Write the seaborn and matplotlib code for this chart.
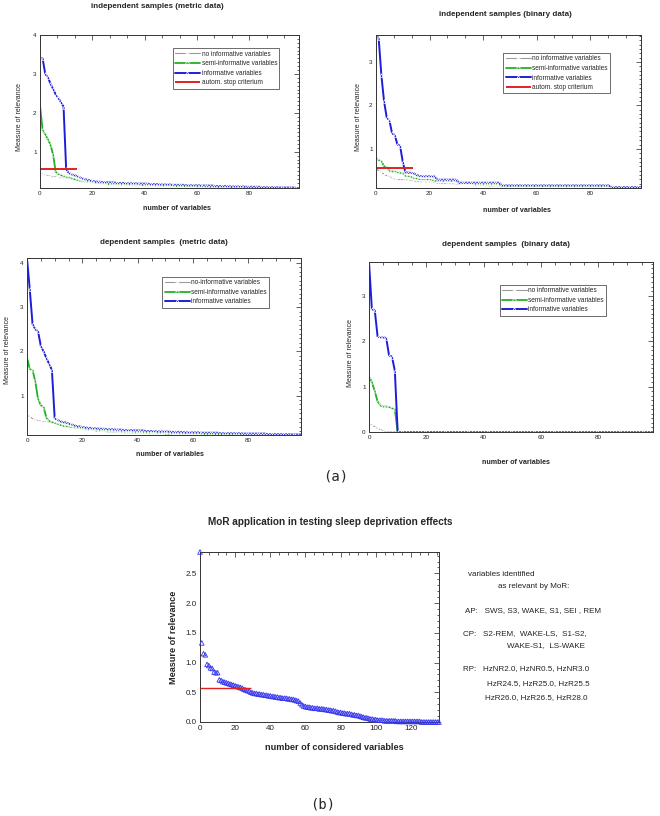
import seaborn as sns
import matplotlib.pyplot as plt
from matplotlib.ticker import MultipleLocator, AutoMinorLocator, FormatStrFormatter

# ---- data ----
# (a) independent samples, metric data
ind_metric_none = [0.42, 0.42, 0.40, 0.39, 0.37, 0.36, 0.35, 0.34, 0.33, 0.32,
                   0.31, 0.30, 0.29, 0.28, 0.27, 0.26, 0.25, 0.24, 0.23, 0.22,
                   0.21, 0.20, 0.19, 0.18, 0.18, 0.17, 0.17, 0.16, 0.16, 0.15,
                   0.15, 0.15, 0.14, 0.14, 0.14, 0.13, 0.13, 0.13, 0.13, 0.12,
                   0.12, 0.12, 0.12, 0.11, 0.11, 0.11, 0.11, 0.11, 0.10, 0.10,
                   0.10, 0.10, 0.10, 0.10, 0.10, 0.09, 0.09, 0.09, 0.09, 0.09,
                   0.09, 0.09, 0.09, 0.08, 0.08, 0.08, 0.08, 0.08, 0.08, 0.08,
                   0.08, 0.08, 0.08, 0.08, 0.08, 0.07, 0.07, 0.07, 0.07, 0.07,
                   0.07, 0.07, 0.07, 0.07, 0.07, 0.07, 0.07, 0.07, 0.07, 0.07,
                   0.07, 0.07, 0.07, 0.07, 0.07, 0.07, 0.07, 0.07, 0.07, 0.07]
ind_metric_semi = [2.20, 1.55, 1.45, 1.32, 1.18, 0.93, 0.48, 0.43, 0.40, 0.37,
                   0.35, 0.34, 0.32, 0.30, 0.28, 0.26, 0.25, 0.24, 0.23, 0.22,
                   0.21, 0.20, 0.19, 0.19, 0.18, 0.18, 0.17, 0.17, 0.16, 0.16,
                   0.16, 0.15, 0.15, 0.15, 0.15, 0.14, 0.14, 0.14, 0.14, 0.14,
                   0.13, 0.13, 0.13, 0.13, 0.13, 0.12, 0.12, 0.12, 0.12, 0.12,
                   0.12, 0.11, 0.11, 0.11, 0.11, 0.11, 0.11, 0.11, 0.10, 0.10,
                   0.10, 0.10, 0.10, 0.10, 0.10, 0.10, 0.09, 0.09, 0.09, 0.09,
                   0.09, 0.09, 0.09, 0.09, 0.09, 0.08, 0.08, 0.08, 0.08, 0.08,
                   0.08, 0.08, 0.08, 0.08, 0.08, 0.08, 0.07, 0.07, 0.07, 0.07,
                   0.07, 0.07, 0.07, 0.07, 0.07, 0.07, 0.07, 0.07, 0.07, 0.07]
ind_metric_info = [3.40, 3.40, 3.00, 2.92, 2.75, 2.62, 2.47, 2.38, 2.28, 2.16,
                   0.55, 0.46, 0.42, 0.40, 0.38, 0.35, 0.32, 0.30, 0.28, 0.27,
                   0.25, 0.24, 0.23, 0.23, 0.22, 0.22, 0.21, 0.21, 0.21, 0.20,
                   0.20, 0.20, 0.20, 0.19, 0.19, 0.19, 0.19, 0.19, 0.18, 0.18,
                   0.18, 0.18, 0.17, 0.17, 0.17, 0.17, 0.16, 0.16, 0.16, 0.16,
                   0.16, 0.15, 0.15, 0.15, 0.15, 0.15, 0.14, 0.14, 0.14, 0.14,
                   0.14, 0.14, 0.13, 0.13, 0.13, 0.13, 0.13, 0.12, 0.12, 0.12,
                   0.12, 0.12, 0.12, 0.11, 0.11, 0.11, 0.11, 0.11, 0.11, 0.10,
                   0.10, 0.10, 0.10, 0.10, 0.10, 0.09, 0.09, 0.09, 0.09, 0.09,
                   0.09, 0.08, 0.08, 0.08, 0.08, 0.08, 0.08, 0.08, 0.07, 0.07]

# (a) independent samples, binary data
ind_binary_none = [0.55, 0.50, 0.46, 0.42, 0.38, 0.36, 0.33, 0.30, 0.29, 0.29,
                   0.29, 0.28, 0.28, 0.27, 0.26, 0.24, 0.24, 0.23, 0.23, 0.23,
                   0.23, 0.22, 0.22, 0.20, 0.20, 0.20, 0.20, 0.19, 0.19, 0.19,
                   0.18, 0.17, 0.17, 0.16, 0.16, 0.16, 0.15, 0.15, 0.14, 0.14,
                   0.14, 0.13, 0.13, 0.13, 0.13, 0.12, 0.12, 0.12, 0.12, 0.12,
                   0.12, 0.12, 0.12, 0.12, 0.12, 0.12, 0.12, 0.12, 0.12, 0.12,
                   0.12, 0.12, 0.12, 0.12, 0.12, 0.11, 0.11, 0.11, 0.11, 0.11,
                   0.11, 0.11, 0.11, 0.11, 0.11, 0.11, 0.11, 0.11, 0.11, 0.11,
                   0.11, 0.11, 0.11, 0.11, 0.11, 0.10, 0.10, 0.10, 0.10, 0.10,
                   0.10, 0.10, 0.10, 0.10, 0.10, 0.10, 0.10, 0.10, 0.10, 0.10]
ind_binary_semi = [0.78, 0.74, 0.72, 0.60, 0.58, 0.50, 0.48, 0.48, 0.46, 0.45,
                   0.44, 0.38, 0.38, 0.36, 0.33, 0.32, 0.31, 0.30, 0.30, 0.30,
                   0.30, 0.28, 0.27, 0.26, 0.26, 0.26, 0.26, 0.26, 0.26, 0.26,
                   0.25, 0.21, 0.21, 0.21, 0.21, 0.21, 0.21, 0.17, 0.17, 0.17,
                   0.17, 0.17, 0.17, 0.17, 0.17, 0.17, 0.17, 0.14, 0.14, 0.14,
                   0.14, 0.14, 0.14, 0.14, 0.14, 0.14, 0.14, 0.14, 0.14, 0.14,
                   0.14, 0.14, 0.14, 0.14, 0.14, 0.14, 0.14, 0.14, 0.14, 0.14,
                   0.14, 0.14, 0.14, 0.14, 0.14, 0.14, 0.14, 0.14, 0.14, 0.14,
                   0.14, 0.14, 0.14, 0.14, 0.14, 0.14, 0.14, 0.14, 0.11, 0.11,
                   0.11, 0.11, 0.11, 0.11, 0.11, 0.11, 0.11, 0.11, 0.11, 0.11]
ind_binary_info = [3.62, 3.55, 2.70, 2.10, 1.72, 1.66, 1.36, 1.32, 1.10, 1.07,
                   0.70, 0.46, 0.45, 0.45, 0.44, 0.40, 0.38, 0.37, 0.37, 0.37,
                   0.37, 0.37, 0.36, 0.29, 0.29, 0.29, 0.29, 0.29, 0.29, 0.29,
                   0.29, 0.22, 0.22, 0.22, 0.22, 0.22, 0.22, 0.22, 0.22, 0.22,
                   0.22, 0.22, 0.22, 0.22, 0.22, 0.22, 0.22, 0.16, 0.16, 0.16,
                   0.16, 0.16, 0.16, 0.16, 0.16, 0.16, 0.16, 0.16, 0.16, 0.16,
                   0.16, 0.16, 0.16, 0.16, 0.16, 0.16, 0.16, 0.16, 0.16, 0.16,
                   0.16, 0.16, 0.16, 0.16, 0.16, 0.16, 0.16, 0.16, 0.16, 0.16,
                   0.16, 0.16, 0.16, 0.16, 0.16, 0.16, 0.16, 0.16, 0.12, 0.12,
                   0.12, 0.12, 0.12, 0.12, 0.12, 0.12, 0.12, 0.12, 0.12, 0.12]

# (a) dependent samples, metric data
dep_metric_none = [0.56, 0.53, 0.48, 0.45, 0.43, 0.42, 0.41, 0.40, 0.39, 0.38,
                   0.37, 0.36, 0.35, 0.34, 0.33, 0.32, 0.31, 0.30, 0.29, 0.28,
                   0.27, 0.26, 0.25, 0.24, 0.23, 0.22, 0.21, 0.21, 0.20, 0.20,
                   0.19, 0.19, 0.18, 0.18, 0.18, 0.17, 0.17, 0.17, 0.16, 0.16,
                   0.16, 0.16, 0.15, 0.15, 0.15, 0.15, 0.15, 0.14, 0.14, 0.14,
                   0.14, 0.14, 0.14, 0.14, 0.14, 0.14, 0.14, 0.14, 0.14, 0.14,
                   0.13, 0.13, 0.13, 0.13, 0.13, 0.13, 0.13, 0.13, 0.13, 0.13,
                   0.13, 0.13, 0.13, 0.13, 0.13, 0.12, 0.12, 0.12, 0.12, 0.12,
                   0.12, 0.12, 0.12, 0.12, 0.12, 0.12, 0.12, 0.12, 0.12, 0.12,
                   0.12, 0.12, 0.12, 0.12, 0.12, 0.11, 0.11, 0.11, 0.11, 0.11]
dep_metric_semi = [1.87, 1.60, 1.58, 1.32, 0.92, 0.78, 0.74, 0.50, 0.43, 0.40,
                   0.38, 0.36, 0.34, 0.32, 0.31, 0.30, 0.29, 0.28, 0.27, 0.26,
                   0.25, 0.24, 0.23, 0.23, 0.22, 0.21, 0.21, 0.20, 0.20, 0.19,
                   0.19, 0.19, 0.18, 0.18, 0.18, 0.17, 0.17, 0.17, 0.17, 0.16,
                   0.16, 0.16, 0.16, 0.16, 0.15, 0.15, 0.15, 0.15, 0.15, 0.15,
                   0.14, 0.14, 0.14, 0.14, 0.14, 0.14, 0.14, 0.14, 0.14, 0.14,
                   0.14, 0.14, 0.14, 0.13, 0.13, 0.13, 0.13, 0.13, 0.13, 0.13,
                   0.13, 0.13, 0.13, 0.13, 0.12, 0.12, 0.12, 0.12, 0.12, 0.12,
                   0.12, 0.12, 0.12, 0.12, 0.12, 0.12, 0.12, 0.12, 0.12, 0.12,
                   0.12, 0.12, 0.11, 0.11, 0.11, 0.11, 0.11, 0.11, 0.11, 0.11]
dep_metric_info = [4.10, 3.40, 2.62, 2.50, 2.45, 2.12, 2.00, 1.85, 1.72, 1.58,
                   0.49, 0.45, 0.42, 0.40, 0.39, 0.37, 0.35, 0.33, 0.31, 0.30,
                   0.29, 0.28, 0.27, 0.27, 0.26, 0.26, 0.25, 0.25, 0.25, 0.24,
                   0.24, 0.24, 0.23, 0.23, 0.23, 0.22, 0.22, 0.22, 0.22, 0.21,
                   0.21, 0.21, 0.21, 0.20, 0.20, 0.20, 0.20, 0.19, 0.19, 0.19,
                   0.19, 0.19, 0.18, 0.18, 0.18, 0.18, 0.18, 0.17, 0.17, 0.17,
                   0.17, 0.17, 0.17, 0.16, 0.16, 0.16, 0.16, 0.16, 0.16, 0.16,
                   0.15, 0.15, 0.15, 0.15, 0.15, 0.15, 0.15, 0.15, 0.14, 0.14,
                   0.14, 0.14, 0.14, 0.14, 0.14, 0.14, 0.14, 0.13, 0.13, 0.13,
                   0.13, 0.13, 0.13, 0.13, 0.13, 0.12, 0.12, 0.12, 0.12, 0.12]

# (a) dependent samples, binary data
dep_binary_none = [0.18, 0.15, 0.12, 0.08, 0.05, 0.02, 0.00, 0.00, 0.00, 0.00,
                   0.00, 0.00, 0.00, 0.00, 0.00, 0.00, 0.00, 0.00, 0.00, 0.00,
                   0.00, 0.00, 0.00, 0.00, 0.00, 0.00, 0.00, 0.00, 0.00, 0.00,
                   0.00, 0.00, 0.00, 0.00, 0.00, 0.00, 0.00, 0.00, 0.00, 0.00,
                   0.00, 0.00, 0.00, 0.00, 0.00, 0.00, 0.00, 0.00, 0.00, 0.00,
                   0.00, 0.00, 0.00, 0.00, 0.00, 0.00, 0.00, 0.00, 0.00, 0.00,
                   0.00, 0.00, 0.00, 0.00, 0.00, 0.00, 0.00, 0.00, 0.00, 0.00,
                   0.00, 0.00, 0.00, 0.00, 0.00, 0.00, 0.00, 0.00, 0.00, 0.00,
                   0.00, 0.00, 0.00, 0.00, 0.00, 0.00, 0.00, 0.00, 0.00, 0.00,
                   0.00, 0.00, 0.00, 0.00, 0.00, 0.00, 0.00, 0.00, 0.00, 0.00]
dep_binary_semi = [1.22, 1.10, 0.90, 0.67, 0.58, 0.56, 0.56, 0.55, 0.52, 0.50,
                   0.00, 0.00, 0.00, 0.00, 0.00, 0.00, 0.00, 0.00, 0.00, 0.00,
                   0.00, 0.00, 0.00, 0.00, 0.00, 0.00, 0.00, 0.00, 0.00, 0.00,
                   0.00, 0.00, 0.00, 0.00, 0.00, 0.00, 0.00, 0.00, 0.00, 0.00,
                   0.00, 0.00, 0.00, 0.00, 0.00, 0.00, 0.00, 0.00, 0.00, 0.00,
                   0.00, 0.00, 0.00, 0.00, 0.00, 0.00, 0.00, 0.00, 0.00, 0.00,
                   0.00, 0.00, 0.00, 0.00, 0.00, 0.00, 0.00, 0.00, 0.00, 0.00,
                   0.00, 0.00, 0.00, 0.00, 0.00, 0.00, 0.00, 0.00, 0.00, 0.00,
                   0.00, 0.00, 0.00, 0.00, 0.00, 0.00, 0.00, 0.00, 0.00, 0.00,
                   0.00, 0.00, 0.00, 0.00, 0.00, 0.00, 0.00, 0.00, 0.00, 0.00]
dep_binary_info = [3.75, 2.70, 2.68, 2.10, 2.08, 2.08, 2.07, 1.68, 1.66, 1.35,
                   0.00, 0.00, 0.00, 0.00, 0.00, 0.00, 0.00, 0.00, 0.00, 0.00,
                   0.00, 0.00, 0.00, 0.00, 0.00, 0.00, 0.00, 0.00, 0.00, 0.00,
                   0.00, 0.00, 0.00, 0.00, 0.00, 0.00, 0.00, 0.00, 0.00, 0.00,
                   0.00, 0.00, 0.00, 0.00, 0.00, 0.00, 0.00, 0.00, 0.00, 0.00,
                   0.00, 0.00, 0.00, 0.00, 0.00, 0.00, 0.00, 0.00, 0.00, 0.00,
                   0.00, 0.00, 0.00, 0.00, 0.00, 0.00, 0.00, 0.00, 0.00, 0.00,
                   0.00, 0.00, 0.00, 0.00, 0.00, 0.00, 0.00, 0.00, 0.00, 0.00,
                   0.00, 0.00, 0.00, 0.00, 0.00, 0.00, 0.00, 0.00, 0.00, 0.00,
                   0.00, 0.00, 0.00, 0.00, 0.00, 0.00, 0.00, 0.00, 0.00, 0.00]

# automatic stop criterium (level, last variable) for the independent panels
stop_metric = (0.55, 14)
stop_binary = (0.57, 14)

# (b) sleep deprivation, MoR of 137 considered variables
sleep_mor = [2.86, 1.33, 1.15, 1.13, 0.97, 0.95, 0.91, 0.90, 0.84, 0.83,
             0.83, 0.71, 0.70, 0.68, 0.67, 0.66, 0.65, 0.64, 0.63, 0.62,
             0.61, 0.60, 0.59, 0.58, 0.57, 0.55, 0.54, 0.53, 0.52, 0.50,
             0.49, 0.48, 0.48, 0.47, 0.47, 0.46, 0.46, 0.45, 0.45, 0.44,
             0.44, 0.43, 0.43, 0.42, 0.42, 0.41, 0.41, 0.40, 0.40, 0.40,
             0.39, 0.39, 0.38, 0.38, 0.37, 0.36, 0.35, 0.32, 0.29, 0.27,
             0.26, 0.25, 0.25, 0.24, 0.24, 0.23, 0.23, 0.23, 0.22, 0.22,
             0.22, 0.21, 0.21, 0.20, 0.20, 0.19, 0.19, 0.18, 0.17, 0.16,
             0.16, 0.15, 0.15, 0.14, 0.14, 0.14, 0.13, 0.12, 0.12, 0.11,
             0.11, 0.10, 0.09, 0.08, 0.07, 0.07, 0.06, 0.05, 0.05, 0.04,
             0.04, 0.03, 0.03, 0.03, 0.03, 0.02, 0.02, 0.02, 0.02, 0.02,
             0.02, 0.02, 0.01, 0.01, 0.01, 0.01, 0.01, 0.01, 0.01, 0.01,
             0.01, 0.01, 0.01, 0.01, 0.01, 0.01, 0.00, 0.00, 0.00, 0.00,
             0.00, 0.00, 0.00, 0.00, 0.00, 0.00, 0.00]
stop_sleep = (0.57, 29)

relevant_text = [
    (468, 574, "variables identified"),
    (498, 587, "as relevant by MoR:"),
    (465, 611, "AP:   SWS, S3, WAKE, S1, SEI , REM"),
    (463, 634, "CP:   S2-REM,  WAKE-LS,  S1-S2,"),
    (507, 646, "WAKE-S1,  LS-WAKE"),
    (463, 669, "RP:   HzNR2.0, HzNR0.5, HzNR3.0"),
    (487, 684, "HzR24.5, HzR25.0, HzR25.5"),
    (485, 698, "HzR26.0, HzR26.5, HzR28.0"),
]

GREY = '#9c9c9c'
GREEN = '#24b024'
BLUE = '#1e1ed8'
RED = '#e02222'

sns.set_style("white")
plt.rcParams['font.family'] = ['Liberation Sans', 'DejaVu Sans']

W, H = 660, 816
fig = plt.figure(figsize=(W / 100, H / 100), dpi=100)


def px_axes(x0, y0, x1, y1):
    return fig.add_axes([x0 / W, 1 - y1 / H, (x1 - x0) / W, (y1 - y0) / H])


def ftext(x, y, s, **kw):
    kw.setdefault('ha', 'center')
    kw.setdefault('va', 'center')
    fig.text(x / W, 1 - y / H, s, **kw)


def style(ax, xmaj, xmin_n, ymaj, ymin_n, size):
    ax.xaxis.set_major_locator(MultipleLocator(xmaj))
    ax.xaxis.set_minor_locator(AutoMinorLocator(xmin_n))
    ax.yaxis.set_major_locator(MultipleLocator(ymaj))
    ax.yaxis.set_minor_locator(AutoMinorLocator(ymin_n))
    ax.tick_params(which='both', direction='in', top=True, right=True,
                   width=0.5, colors='#222222', labelsize=size, pad=2.5)
    ax.tick_params(which='major', length=3.4)
    ax.tick_params(which='minor', length=1.8)
    for s in ax.spines.values():
        s.set_linewidth(0.7)
        s.set_color('#333333')
    ax.set_xlabel('')
    ax.set_ylabel('')


def curves(ax, grey, semi, info, labels, stop=None):
    x = list(range(len(info)))
    sns.lineplot(x=x, y=grey, ax=ax, color=GREY, lw=0.8, marker='+', ms=3.0,
                 mew=0.5, label=labels[0])
    sns.lineplot(x=x, y=semi, ax=ax, color=GREEN, lw=1.3, marker='o', ms=2.4,
                 mfc='none', mew=0.5, label=labels[1])
    sns.lineplot(x=x, y=info, ax=ax, color=BLUE, lw=1.4, marker='^', ms=2.6,
                 mfc='none', mew=0.5, label=labels[2])
    if stop is not None:
        ax.hlines(stop[0], 0, stop[1], color=RED, lw=1.4,
                  label='autom. stop criterium')


def legend(ax, anchor):
    leg = ax.legend(loc='upper right', bbox_to_anchor=anchor, fontsize=4.7,
                    frameon=True, fancybox=False, edgecolor='#333333',
                    framealpha=1, handlelength=3.8, handletextpad=0.25,
                    labelspacing=0.4, borderpad=0.35, borderaxespad=0)
    leg.get_frame().set_linewidth(0.5)


labels_a = ['no informative variables', 'semi-informative variables',
            'informative variables']
labels_c = ['no-informative variables', 'semi-informative variables',
            'informative variables']

TITLE = dict(fontsize=5.8, fontweight='bold')
XLAB = dict(fontsize=5.1, fontweight='bold')
YLAB = dict(fontsize=5.0, rotation=90)
TICK_A = 4.5

# panel 1
ax1 = px_axes(40, 35, 299, 188)
curves(ax1, ind_metric_none, ind_metric_semi, ind_metric_info, labels_a, stop_metric)
ax1.set_xlim(0, 99)
ax1.set_ylim(0.07, 4.0)
style(ax1, 20, 3, 1, 10, TICK_A)
legend(ax1, (0.924, 0.913))
ftext(157, 7, 'independent samples (metric data)', **TITLE)
ftext(177, 209, 'number of variables', **XLAB)
ftext(20, 117, 'Measure of relevance', **YLAB)

# panel 2
ax2 = px_axes(376, 35, 641, 188)
curves(ax2, ind_binary_none, ind_binary_semi, ind_binary_info, labels_a, stop_binary)
ax2.set_xlim(0, 99)
ax2.set_ylim(0.10, 3.62)
style(ax2, 20, 3, 1, 10, TICK_A)
legend(ax2, (0.883, 0.882))
ftext(505, 15, 'independent samples (binary data)', **TITLE)
ftext(517, 211, 'number of variables', **XLAB)
ftext(359, 117, 'Measure of relevance', **YLAB)

# panel 3
ax3 = px_axes(27, 258, 301, 435)
curves(ax3, dep_metric_none, dep_metric_semi, dep_metric_info, labels_c)
ax3.set_xlim(0, 99)
ax3.set_ylim(0.11, 4.11)
style(ax3, 20, 4, 1, 10, TICK_A)
legend(ax3, (0.883, 0.893))
ftext(164, 242, 'dependent samples  (metric data)', **TITLE)
ftext(170, 455, 'number of variables', **XLAB)
ftext(8, 350, 'Measure of relevance', **YLAB)

# panel 4
ax4 = px_axes(369, 262, 653, 432)
curves(ax4, dep_binary_none, dep_binary_semi, dep_binary_info, labels_a)
ax4.set_xlim(0, 99)
ax4.set_ylim(0, 3.74)
style(ax4, 20, 4, 1, 10, TICK_A)
legend(ax4, (0.835, 0.865))
ftext(506, 244, 'dependent samples  (binary data)', **TITLE)
ftext(516, 463, 'number of variables', **XLAB)
ftext(350, 353, 'Measure of relevance', **YLAB)

ftext(336, 476, '(a)', fontsize=10, family='DejaVu Sans Mono')

# panel b
axb = px_axes(200, 552, 439, 722)
xs = list(range(len(sleep_mor)))
sns.scatterplot(x=xs, y=sleep_mor, ax=axb, marker='^', s=11, fc='none',
                ec='#3434ee', linewidth=0.6, clip_on=False, zorder=3)
axb.hlines(stop_sleep[0], 0, stop_sleep[1], color=RED, lw=1.0, zorder=4)
axb.set_xlim(0, 136)
axb.set_ylim(0, 2.86)
style(axb, 20, 4, 0.5, 5, 5.8)
axb.yaxis.set_major_formatter(FormatStrFormatter('%.1f'))
ftext(330, 522, 'MoR application in testing sleep deprivation effects',
      fontsize=7.2, fontweight='bold')
ftext(334, 748, 'number of considered variables', fontsize=6.6, fontweight='bold')
ftext(174, 637, 'Measure of relevance', fontsize=6.6, fontweight='bold', rotation=90)

for x, y, s in relevant_text:
    ftext(x, y, s, ha='left', fontsize=5.8, color='#222222')

ftext(323, 804, '(b)', fontsize=10, family='DejaVu Sans Mono')

fig.savefig('out.png', dpi=100, facecolor='white')
